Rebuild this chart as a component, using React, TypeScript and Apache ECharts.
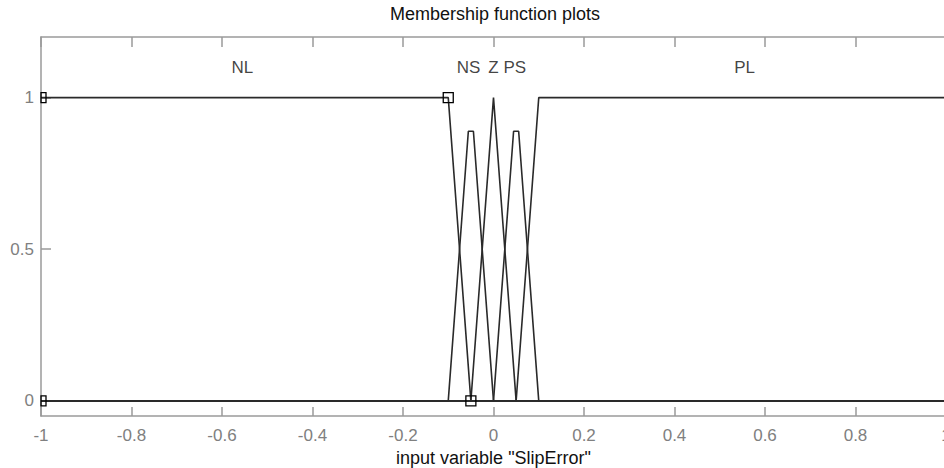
import React, { useEffect, useRef } from "react";
import * as echarts from "echarts";

// Membership function vertices (x, membership)
const mfNL: number[][] = [[-1, 1], [-0.1, 1], [-0.05, 0], [1, 0]];
const mfNS: number[][] = [[-1, 0], [-0.1, 0], [-0.0556, 0.889], [-0.0444, 0.889], [0, 0], [1, 0]];
const mfZ: number[][] = [[-1, 0], [-0.05, 0], [0, 1], [0.05, 0], [1, 0]];
const mfPS: number[][] = [[-1, 0], [0, 0], [0.0444, 0.889], [0.0556, 0.889], [0.1, 0], [1, 0]];
const mfPL: number[][] = [[-1, 0], [0.05, 0], [0.1, 1], [1, 1]];

// Selected MF (NL) handle squares
const handles: number[][] = [[-1, 0], [-1, 1], [-0.1, 1], [-0.05, 0]];

// MF labels
const mfNames = ["NL", "NS", "Z", "PS", "PL"];
const mfLabelX = [-0.555, -0.055, 0, 0.047, 0.555];
const mfLabelY = 1.1;

const yTicks = [0, 0.5, 1];

const FONT = "'Liberation Sans', Arial, Helvetica, sans-serif";
const LINE = "#2a2a2a";
const AXIS = "#9a9a9a";
const TICKTXT = "#808080";

export default function App() {
  const ref = useRef<HTMLDivElement>(null);
  useEffect(() => {
    document.body.style.margin = "0";
    if (!ref.current) return;
    const chart = echarts.init(ref.current, undefined, { renderer: "svg" });
    const lineSeries = (name: string, data: number[][]) => ({
      type: "line",
      name,
      data,
      showSymbol: false,
      symbol: "none",
      lineStyle: { color: LINE, width: 1.6 },
      silent: true,
      clip: true,
      z: 3,
    });
    chart.setOption({
      animation: false,
      backgroundColor: "#fff",
      textStyle: { fontFamily: FONT },
      graphic: [
        {
          type: "text",
          x: 495,
          y: 5,
          style: {
            text: "Membership function plots",
            fontSize: 18,
            fontFamily: FONT,
            fill: "#111",
            textAlign: "center",
            textVerticalAlign: "top",
          },
        },
      ],
      grid: { left: 41, right: -2, top: 37, bottom: 52, containLabel: false, outerBoundsMode: "none" },
      xAxis: [
        {
          type: "value",
          min: -1,
          max: 1,
          interval: 0.2,
          position: "bottom",
          name: 'input variable "SlipError"',
          nameLocation: "middle",
          nameGap: 32,
          nameTextStyle: { fontSize: 18, color: "#111", fontFamily: FONT },
          axisLine: { show: true, onZero: false, lineStyle: { color: AXIS, width: 1.5 } },
          axisTick: { show: true, inside: true, length: 9, lineStyle: { color: AXIS, width: 1.5 } },
          axisLabel: { show: true, color: TICKTXT, fontSize: 17, margin: 11, fontFamily: FONT },
          splitLine: { show: false },
        },
        {
          type: "value",
          min: -1,
          max: 1,
          interval: 0.2,
          position: "top",
          axisLine: { show: true, onZero: false, lineStyle: { color: AXIS, width: 1.5 } },
          axisTick: { show: true, inside: true, length: 10, lineStyle: { color: AXIS, width: 1.5 } },
          axisLabel: { show: false },
          splitLine: { show: false },
        },
      ],
      yAxis: [
        {
          type: "value",
          min: -0.05,
          max: 1.2,
          position: "left",
          axisLine: { show: true, onZero: false, lineStyle: { color: AXIS, width: 1.5 } },
          axisTick: { show: true, inside: true, length: 10, customValues: yTicks, lineStyle: { color: AXIS, width: 1.5 } },
          axisLabel: {
            show: true,
            color: TICKTXT,
            fontSize: 17,
            margin: 7,
            fontFamily: FONT,
            customValues: yTicks,
            formatter: (v: number) => String(v),
          },
          splitLine: { show: false },
        },
      ],
      series: [
        lineSeries("NS", mfNS),
        lineSeries("Z", mfZ),
        lineSeries("PS", mfPS),
        lineSeries("PL", mfPL),
        lineSeries("NL", mfNL),
        {
          type: "custom",
          name: "handles",
          data: handles,
          silent: true,
          z: 5,
          renderItem: (params: any, api: any) => {
            const p = api.coord([api.value(0), api.value(1)]);
            const s = 10;
            const cs = params.coordSys;
            const r = echarts.graphic.clipRectByRect(
              { x: p[0] - s / 2, y: p[1] - s / 2, width: s, height: s },
              { x: cs.x, y: cs.y, width: cs.width, height: cs.height }
            );
            if (!r) return null;
            return {
              type: "rect",
              shape: r,
              style: { fill: "none", stroke: "#000", lineWidth: 1.3 },
            };
          },
        },
        {
          type: "scatter",
          name: "labels",
          data: mfNames.map((n, i) => [mfLabelX[i], mfLabelY, n]),
          symbol: "circle",
          symbolSize: 1,
          silent: true,
          itemStyle: { color: "rgba(0,0,0,0)" },
          label: {
            show: true,
            position: "inside",
            formatter: (p: any) => p.data[2],
            fontSize: 17,
            color: "#111",
            fontFamily: FONT,
          },
          z: 6,
        },
      ],
    });
    return () => chart.dispose();
  }, []);
  return <div ref={ref} style={{ width: 944, height: 468 }} />;
}
